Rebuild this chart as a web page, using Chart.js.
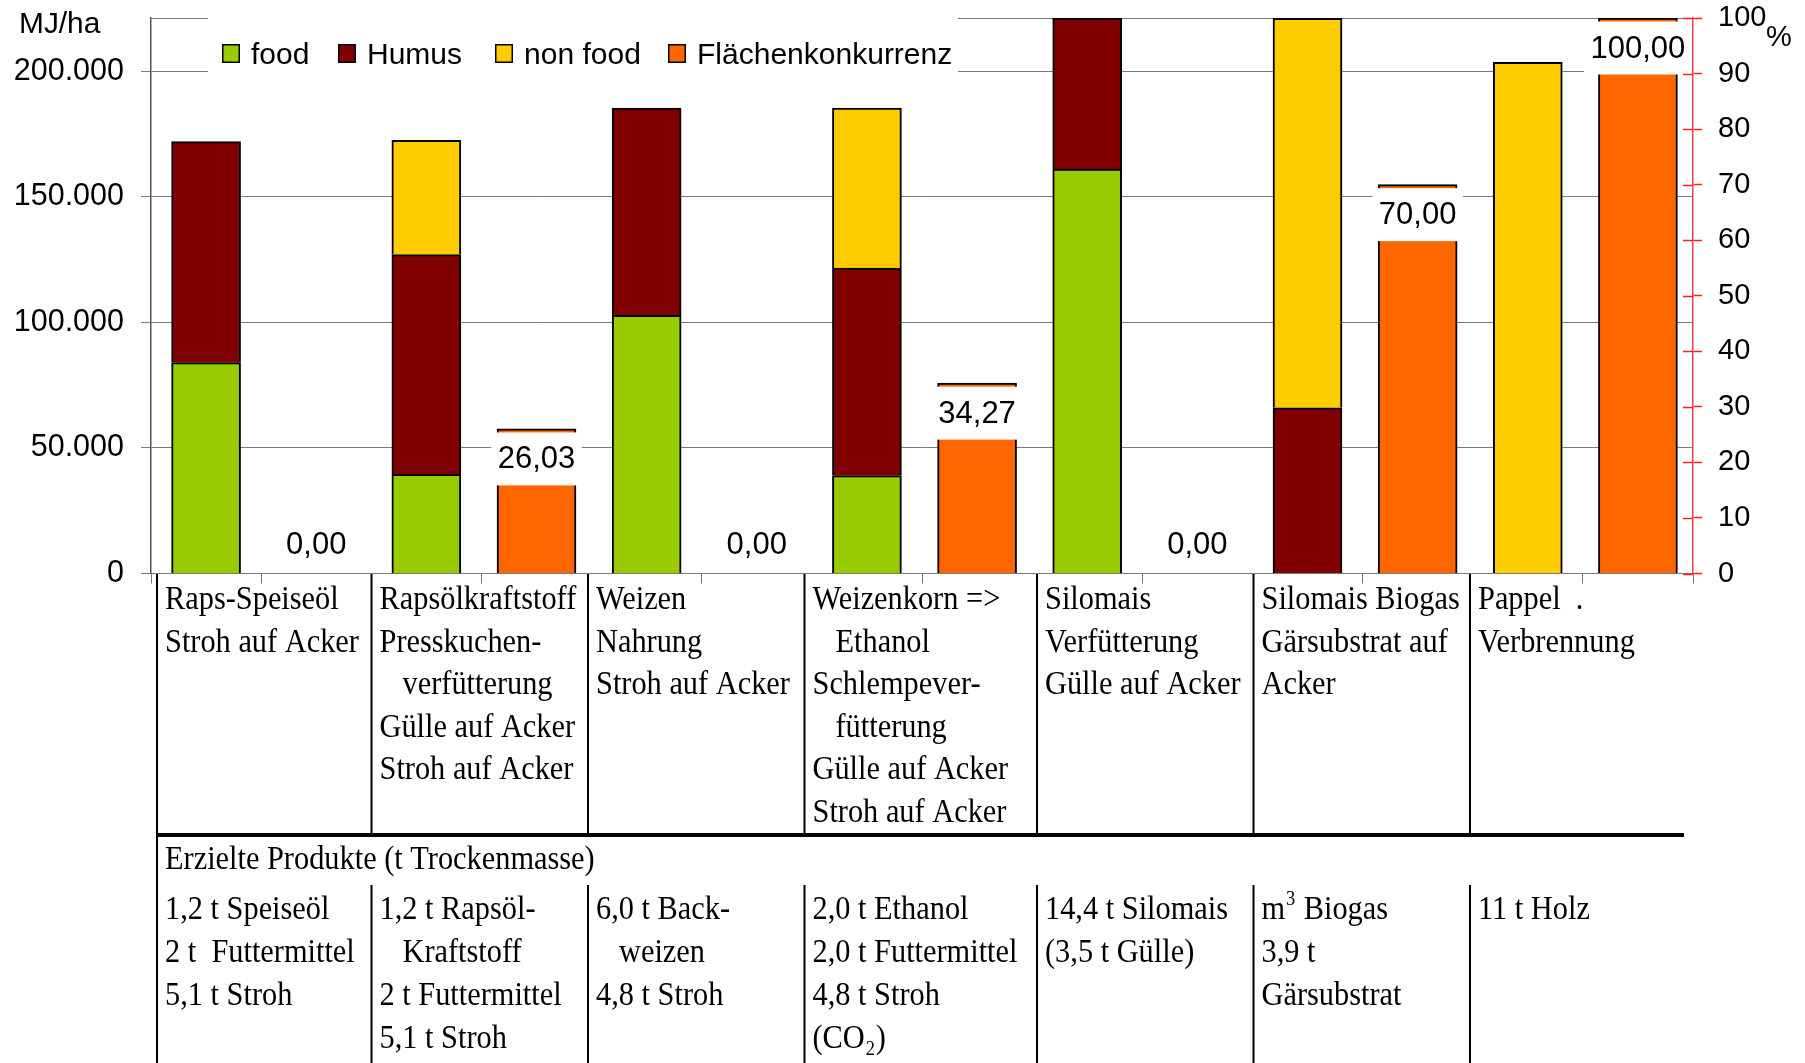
<!DOCTYPE html>
<html lang="de">
<head>
<meta charset="utf-8">
<title>Energieertrag und Flächenkonkurrenz</title>
<script src="https://cdn.jsdelivr.net/npm/chart.js@4/dist/chart.umd.min.js"></script>
<style>
  html, body { margin: 0; padding: 0; background: #fff; }
  #wrap { width: 1805px; height: 1063px; position: relative; }
  canvas { display: block; }
</style>
</head>
<body>
<div id="wrap"><canvas id="chart" width="1805" height="1063"></canvas></div>
<script>
// ---- data ----------------------------------------------------------------
const categories = ['Raps-Speiseöl', 'Rapsölkraftstoff', 'Weizen', 'Weizenkorn => Ethanol',
                    'Silomais', 'Silomais Biogas', 'Pappel'];
// energy yield per hectare (MJ/ha), stacked
const food    = [84000, 39500, 102800, 39000, 161000,     0,      0];
const humus   = [88000, 87500,  82500, 82600,  70000, 66000,      0];
const nonFood = [    0, 45500,      0, 63700,      0, 165000, 203500];
// land competition in percent (right axis)
const flaechenkonkurrenz = [0.00, 26.03, 0.00, 34.27, 0.00, 70.00, 100.00];
const seriesNames = ['food', 'Humus', 'non food', 'Flächenkonkurrenz'];
const seriesColors = ['#99CC00', '#800000', '#FFCC00', '#FF6600'];

// axis ticks
const Y_MAX = 221200;
const yTickValues = [0, 50000, 100000, 150000, 200000, Y_MAX];   // last one: plot top, unlabeled
const yLabeledStep = 50000;
const Y1_MAX = 100;
const y1TickValues = [0, 10, 20, 30, 40, 50, 60, 70, 80, 90, 100];

// table below the chart: process chain per column
const processRows = [
  ['Raps-Speiseöl', 'Stroh auf Acker'],
  ['Rapsölkraftstoff', 'Presskuchen-', '>verfütterung', 'Gülle auf Acker', 'Stroh auf Acker'],
  ['Weizen', 'Nahrung', 'Stroh auf Acker'],
  ['Weizenkorn =>', '>Ethanol', 'Schlempever-', '>fütterung', 'Gülle auf Acker', 'Stroh auf Acker'],
  ['Silomais', 'Verfütterung', 'Gülle auf Acker'],
  ['Silomais Biogas', 'Gärsubstrat auf', 'Acker'],
  ['Pappel  .', 'Verbrennung']
];
const productsTitle = 'Erzielte Produkte (t Trockenmasse)';
const productRows = [
  ['1,2 t Speiseöl', '2 t  Futtermittel', '5,1 t Stroh'],
  ['1,2 t Rapsöl-', '>Kraftstoff', '2 t Futtermittel', '5,1 t Stroh'],
  ['6,0 t Back-', '>weizen', '4,8 t Stroh'],
  ['2,0 t Ethanol', '2,0 t Futtermittel', '4,8 t Stroh', '(CO₂)'],
  ['14,4 t Silomais', '(3,5 t Gülle)'],
  ['m³ Biogas', '3,9 t', 'Gärsubstrat'],
  ['11 t Holz']
];

// ---- slots: every category has an energy slot and a land-use slot -------
const slotLabels = categories.flatMap(c => [c, c + ' – Fläche']);
const onEnergySlot = arr => arr.flatMap(v => [v, null]);
const onAreaSlot = arr => arr.flatMap(v => [null, v]);

const fmtThousands = v => String(v).replace(/\B(?=(\d{3})+(?!\d))/g, '.');
const SANS = '"Liberation Sans", Arial, sans-serif';
const SERIF = '"Liberation Serif", "Times New Roman", serif';
const GRID = '#7a7a7a';

// ---- layout of the table (drawing geometry) ------------------------------
const TABLE = {
  cols: [157, 371.5, 588, 804.5, 1037, 1253.5, 1470],
  right: 1684,
  top: 574,
  split: 835,
  lowerTop: 885,
  bottom: 1063,
  textDx: 8,
  indent: 23,
  upperBase: 609,
  upperStep: 42.6,
  titleBase: 869,
  lowerBase: 919,
  lowerStep: 43,
  fontSize: 33,
  scaleX: 0.92
};

function drawSerifLine(ctx, str, x, y) {
  ctx.save();
  ctx.translate(x, y);
  ctx.scale(TABLE.scaleX, 1);
  ctx.fillStyle = '#000';
  ctx.textAlign = 'left';
  ctx.textBaseline = 'alphabetic';
  let cx = 0;
  let run = '';
  const normal = TABLE.fontSize + 'px ' + SERIF;
  const small = Math.round(TABLE.fontSize * 0.6) + 'px ' + SERIF;
  const flush = () => {
    if (!run) return;
    ctx.font = normal;
    ctx.fillText(run, cx, 0);
    cx += ctx.measureText(run).width;
    run = '';
  };
  for (const ch of str) {
    if (ch === '³' || ch === '₂') {
      flush();
      ctx.font = small;
      const d = ch === '³' ? '3' : '2';
      ctx.fillText(d, cx + 1, ch === '³' ? -14 : 7);
      cx += ctx.measureText(d).width + 2;
    } else {
      run += ch;
    }
  }
  flush();
  ctx.restore();
}

function drawColumnText(ctx, rows, base, step) {
  rows.forEach((lines, c) => {
    const x0 = TABLE.cols[c] + TABLE.textDx;
    lines.forEach((line, r) => {
      let x = x0, t = line;
      if (t.startsWith('>')) { t = t.slice(1); x += TABLE.indent; }
      drawSerifLine(ctx, t, x, base + r * step);
    });
  });
}

function drawWideSans(ctx, str, x, y, size, sx) {
  ctx.save();
  ctx.translate(x, y);
  ctx.scale(sx, 1);
  ctx.font = size + 'px ' + SANS;
  ctx.textAlign = 'left';
  ctx.textBaseline = 'alphabetic';
  ctx.fillStyle = '#000';
  ctx.fillText(str, 0, 0);
  ctx.restore();
}

// ---- plugins ---------------------------------------------------------------
const valueLabels = {
  id: 'valueLabels',
  afterDatasetsDraw(chart) {
    const ctx = chart.ctx;
    const area = chart.chartArea;
    // bars reaching beyond the axis maximum are closed at the plot top
    ctx.save();
    ctx.strokeStyle = '#000';
    ctx.lineWidth = 2;
    for (let d = 0; d < 3; d++) {
      chart.getDatasetMeta(d).data.forEach((bar, i) => {
        const v = chart.data.datasets[d].data[i];
        if (v == null || !v) return;
        if (bar.y < area.top) {
          ctx.beginPath();
          ctx.moveTo(bar.x - bar.width / 2, area.top + 1);
          ctx.lineTo(bar.x + bar.width / 2, area.top + 1);
          ctx.stroke();
        }
      });
    }
    ctx.restore();

    // percentage labels of the land-use bars
    const meta = chart.getDatasetMeta(3);
    const values = chart.data.datasets[3].data;
    const zeroY = chart.scales.y1.getPixelForValue(0);
    ctx.save();
    ctx.font = '31px ' + SANS;
    ctx.textAlign = 'center';
    ctx.textBaseline = 'middle';
    meta.data.forEach((bar, i) => {
      const v = values[i];
      if (v == null) return;
      const text = v.toFixed(2).replace('.', ',');
      const cy = v > 0 ? bar.y + 30 : zeroY - 29;
      const w = ctx.measureText(text).width + 13;
      const h = 53;
      ctx.fillStyle = '#fff';
      ctx.fillRect(bar.x - w / 2, cy - h / 2, w, h);
      ctx.fillStyle = '#000';
      ctx.fillText(text, bar.x, cy + 1);
    });
    ctx.restore();
  }
};

const decorations = {
  id: 'decorations',
  afterDraw(chart) {
    const ctx = chart.ctx;
    const area = chart.chartArea;
    const y1 = chart.scales.y1;

    // inner half of the red tick marks on the percent axis
    ctx.save();
    ctx.strokeStyle = '#ff2020';
    ctx.lineWidth = 1.5;
    y1.ticks.forEach(t => {
      const py = Math.round(y1.getPixelForValue(t.value)) + 0.5;
      ctx.beginPath();
      ctx.moveTo(area.right - 10, py);
      ctx.lineTo(area.right, py);
      ctx.stroke();
    });
    ctx.restore();

    // axis titles
    drawWideSans(ctx, 'MJ/ha', 19, 33, 29, 1.03);
    drawWideSans(ctx, '%', 1766, 46, 29, 1);

    // legend
    ctx.save();
    ctx.fillStyle = '#fff';
    ctx.fillRect(208, 6, 750, 88);
    const legendX = [222, 338, 495, 668];
    seriesNames.forEach((name, i) => {
      ctx.fillStyle = seriesColors[i];
      ctx.fillRect(legendX[i], 44, 18, 19);
      ctx.strokeStyle = '#000';
      ctx.lineWidth = 1.5;
      ctx.strokeRect(legendX[i] + 0.75, 44.75, 16.5, 17.5);
      drawWideSans(ctx, name, legendX[i] + 29, 64, 29, 1.035);
    });
    ctx.restore();

    // table of process chains and products
    ctx.save();
    ctx.strokeStyle = '#000';
    ctx.lineWidth = 2;
    ctx.beginPath();
    TABLE.cols.forEach((x, i) => {
      ctx.moveTo(x, TABLE.top);
      ctx.lineTo(x, i === 0 ? TABLE.bottom : TABLE.split);
      if (i > 0) {
        ctx.moveTo(x, TABLE.lowerTop);
        ctx.lineTo(x, TABLE.bottom);
      }
    });
    ctx.stroke();
    ctx.lineWidth = 4;
    ctx.beginPath();
    ctx.moveTo(TABLE.cols[0] - 1, TABLE.split);
    ctx.lineTo(TABLE.right, TABLE.split);
    ctx.stroke();
    ctx.restore();

    drawColumnText(ctx, processRows, TABLE.upperBase, TABLE.upperStep);
    drawSerifLine(ctx, productsTitle, TABLE.cols[0] + TABLE.textDx, TABLE.titleBase);
    drawColumnText(ctx, productRows, TABLE.lowerBase, TABLE.lowerStep);
  }
};

// ---- chart -----------------------------------------------------------------
const barStyle = { borderColor: '#000', borderWidth: 2, borderSkipped: 'start', clip: 0 };

// vertical scales: fixed width, no extra label padding above/below the plot
const fixVertical = width => s => { s.width = width; s.paddingTop = 0; s.paddingBottom = 0; };

new Chart(document.getElementById('chart'), {
  type: 'bar',
  data: {
    labels: slotLabels,
    datasets: [
      Object.assign({ label: seriesNames[0], data: onEnergySlot(food),    backgroundColor: seriesColors[0], yAxisID: 'y',  barThickness: 69 }, barStyle),
      Object.assign({ label: seriesNames[1], data: onEnergySlot(humus),   backgroundColor: seriesColors[1], yAxisID: 'y',  barThickness: 69 }, barStyle),
      Object.assign({ label: seriesNames[2], data: onEnergySlot(nonFood), backgroundColor: seriesColors[2], yAxisID: 'y',  barThickness: 69 }, barStyle),
      Object.assign({ label: seriesNames[3], data: onAreaSlot(flaechenkonkurrenz), backgroundColor: seriesColors[3], yAxisID: 'y1', barThickness: 79 }, barStyle)
    ]
  },
  options: {
    responsive: false,
    animation: false,
    devicePixelRatio: 1,
    layout: { padding: { top: 18, left: 0, right: 0, bottom: 0 } },
    plugins: {
      legend: { display: false },
      tooltip: { enabled: false },
      title: { display: false }
    },
    scales: {
      x: {
        stacked: true,
        offset: true,
        ticks: { display: false },
        grid: {
          display: true,
          offset: true,
          drawOnChartArea: false,
          drawTicks: true,
          tickLength: 10,
          tickWidth: 1,
          tickColor: c => (c.index === undefined || c.index === 0 || c.index % 2 === 1) ? GRID : 'rgba(0,0,0,0)'
        },
        border: { display: true, color: GRID, width: 1 },
        afterFit: s => { s.height = 489.5; }
      },
      y: {
        stacked: true,
        position: 'left',
        min: 0,
        max: Y_MAX,
        afterBuildTicks: s => { s.ticks = yTickValues.map(v => ({ value: v })); },
        ticks: {
          padding: 17,
          color: '#000',
          autoSkip: false,
          font: { family: SANS, size: 30.5 },
          callback: v => (v % yLabeledStep === 0 ? fmtThousands(v) : '')
        },
        grid: {
          color: GRID,
          lineWidth: 1,
          tickLength: 10,
          tickColor: c => (c.tick && c.tick.value === Y_MAX ? 'rgba(0,0,0,0)' : GRID)
        },
        border: { display: true, color: '#555', width: 1.5 },
        afterFit: fixVertical(151)
      },
      y1: {
        position: 'right',
        min: 0,
        max: Y1_MAX,
        afterBuildTicks: s => { s.ticks = y1TickValues.map(v => ({ value: v })); },
        ticks: {
          padding: 16,
          color: '#000',
          autoSkip: false,
          font: { family: SANS, size: 29 }
        },
        grid: {
          drawOnChartArea: false,
          tickLength: 9,
          tickWidth: 1.5,
          tickColor: '#ff2020'
        },
        border: { display: true, color: '#e04848', width: 1.5 },
        afterFit: fixVertical(112)
      }
    }
  },
  plugins: [valueLabels, decorations]
});
</script>
</body>
</html>
